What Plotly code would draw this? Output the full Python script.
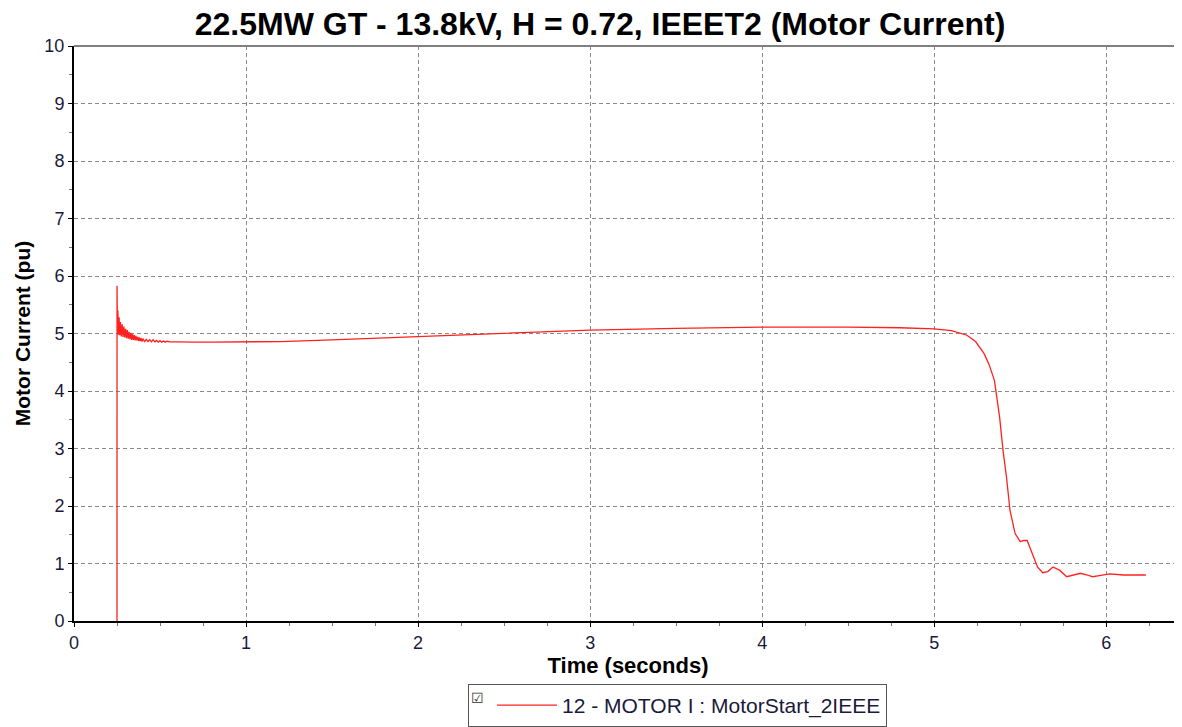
import plotly.graph_objects as go

# ─── Data ─────────────────────────────────────────────────────────────────────
time_s = [
    0.25, 0.2501, 0.252, 0.255, 0.258, 0.262, 0.266, 0.27, 0.275, 0.28,
    0.285, 0.29, 0.295, 0.30, 0.305, 0.31, 0.315, 0.32, 0.325, 0.33, 0.335,
    0.34, 0.345, 0.35, 0.355, 0.36, 0.365, 0.37, 0.375, 0.38, 0.385, 0.39,
    0.395, 0.40, 0.41, 0.42, 0.43, 0.44, 0.45, 0.46, 0.47, 0.48, 0.49, 0.50,
    0.51, 0.52, 0.53, 0.54, 0.56, 0.60, 0.65, 0.70, 0.80, 1.0, 1.2, 1.5, 2.0,
    2.5, 3.0, 3.5, 4.0, 4.5, 4.8, 5.0, 5.1, 5.19, 5.24, 5.29, 5.32, 5.35, 5.38,
    5.40, 5.42, 5.44, 5.47, 5.50, 5.52, 5.54, 5.57, 5.60, 5.63, 5.66, 5.69,
    5.73, 5.77, 5.81, 5.85, 5.89, 5.92, 5.96, 6.02, 6.10, 6.23,
]
motor_current = [
    0.0, 5.83, 5.10, 5.40, 4.98, 5.28, 4.97, 5.20, 4.95, 5.16,
    4.94, 5.12, 4.93, 5.08, 4.92, 5.06, 4.91, 5.03, 4.90, 5.01, 4.89,
    4.99, 4.89, 4.97, 4.88, 4.96, 4.88, 4.94, 4.87, 4.93, 4.87, 4.92,
    4.86, 4.91, 4.86, 4.90, 4.86, 4.89, 4.855, 4.89, 4.855, 4.88, 4.85, 4.875,
    4.85, 4.87, 4.85, 4.865, 4.855, 4.855, 4.85, 4.85, 4.85, 4.85, 4.86, 4.89,
    4.95, 5.01, 5.06, 5.09, 5.11, 5.11, 5.10, 5.08, 5.05, 4.97, 4.86, 4.65,
    4.45, 4.18, 3.54, 2.96, 2.50, 1.93, 1.52, 1.38, 1.40, 1.40, 1.18, 0.94,
    0.84, 0.86, 0.94, 0.88, 0.77, 0.80, 0.83, 0.80, 0.77, 0.79, 0.82, 0.80,
    0.80,
]

title = "22.5MW GT - 13.8kV, H = 0.72, IEEET2 (Motor Current)"
series_name = "12 - MOTOR I : MotorStart_2IEEE"

fig = go.Figure()

fig.add_trace(go.Scatter(
    x=time_s, y=motor_current, mode="lines",
    line=dict(color="#ff2020", width=1.3),
    name=series_name,
))

font_face = "Liberation Sans, Arial, sans-serif"
grid_dash = "4px,3px"

fig.update_layout(
    width=1174, height=719,
    title=dict(text=f"<b>{title}</b>", x=592 / 1174, xref="container",
               xanchor="center", y=1 - 16 / 719, yref="container", yanchor="middle",
               font=dict(family=font_face, size=32, color="#000000")),
    font=dict(family=font_face, color="#1a1a3a"),
    xaxis=dict(
        range=[0, 6.44], tickmode="linear", tick0=0, dtick=1,
        showgrid=True, gridcolor="#8a8a8a", griddash=grid_dash, gridwidth=1,
        showline=True, linecolor="#000000", linewidth=2,
        ticks="outside", ticklen=4, tickcolor="#000000",
        minor=dict(dtick=0.25, ticks="outside", ticklen=3, tickcolor="#777777"),
        tickfont=dict(size=18, color="#1a1a3a"),
        title=dict(text="<b>Time (seconds)</b>", font=dict(size=22, color="#000000"),
                   standoff=4),
        zeroline=False,
    ),
    yaxis=dict(
        range=[0, 10], tickmode="linear", tick0=0, dtick=1,
        showgrid=True, gridcolor="#8a8a8a", griddash=grid_dash, gridwidth=1,
        showline=True, linecolor="#000000", linewidth=2,
        ticks="outside", ticklen=4, tickcolor="#000000",
        minor=dict(dtick=0.5, ticks="outside", ticklen=3, tickcolor="#777777"),
        tickfont=dict(size=18, color="#1a1a3a"),
        title=dict(text="<b>Motor Current (pu)</b>", font=dict(size=21, color="#000000"),
                   standoff=8),
        zeroline=False,
    ),
    showlegend=True,
    legend=dict(
        x=460 / 1174, xref="container", xanchor="left",
        y=0.0, yref="container", yanchor="bottom",
        orientation="h", bordercolor="#555555", borderwidth=1,
        bgcolor="white", font=dict(size=21, color="#1a1a3a"),
        title=dict(text="☑", side="left", font=dict(size=14, color="#333333")),
        itemwidth=60,
    ),
    margin=dict(l=66, r=0, t=38, b=106),
    plot_bgcolor="white", paper_bgcolor="white",
)

# top border of the plot area (gray)
fig.add_shape(type="line", xref="paper", yref="paper", x0=0, x1=1, y0=1, y1=1,
              line=dict(color="#808080", width=2))

fig.write_html("out.html")
